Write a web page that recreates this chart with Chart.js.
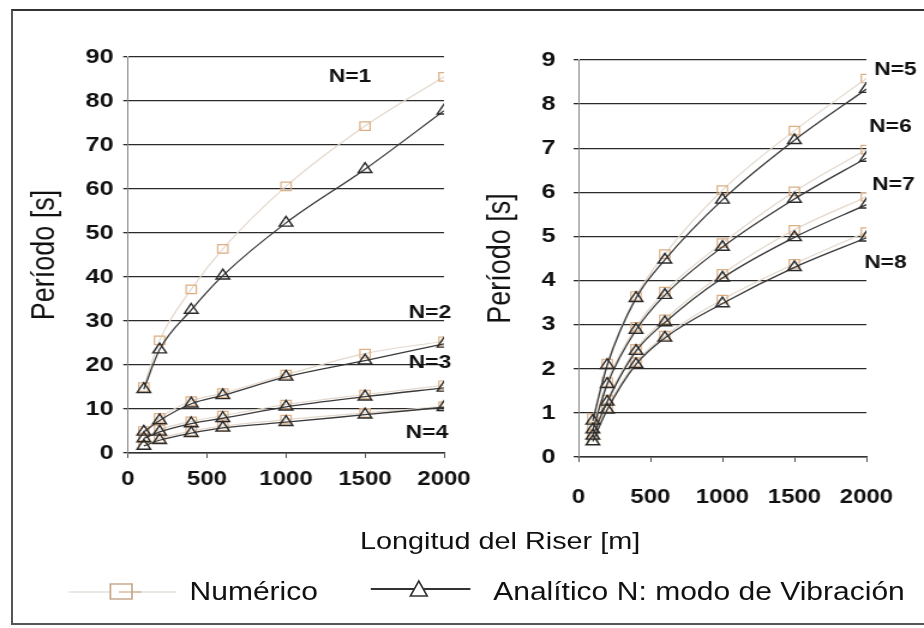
<!DOCTYPE html>
<html>
<head>
<meta charset="utf-8">
<script src="https://cdn.jsdelivr.net/npm/chart.js@4.4.0/dist/chart.umd.min.js"></script>
<style>
  html, body { margin: 0; padding: 0; background: #fff; overflow: hidden; }
  #marco { position: absolute; left: 11px; top: 9px; width: 920px; height: 616px; box-sizing: border-box;
           border-left: 2px solid #555; border-top: 2px solid #333; border-bottom: 2px solid #555; }
  #lienzo { position: absolute; left: 0; top: 0; width: 770px; height: 628px;
            transform: scaleX(1.2); transform-origin: 0 0;
            font-family: 'Liberation Sans', Arial, sans-serif; color: #111; }
  #lienzo canvas { position: absolute; top: 0; }
  .txt { position: absolute; white-space: nowrap; line-height: 1; }
</style>
</head>
<body>
<div id="marco"></div>
<div id="lienzo">
  <canvas id="izq"></canvas>
  <canvas id="der"></canvas>
  <svg width="770" height="628" style="position:absolute;left:0;top:0">
    <line x1="57" y1="592" x2="147" y2="592" stroke="#ebe8e4" stroke-width="2"/>
    <rect x="92" y="584" width="18" height="15" fill="#fff" stroke="#c9a98e" stroke-width="1.5"/>
    <line x1="99" y1="592" x2="118" y2="592" stroke="#c9a98e" stroke-width="1.2"/>
    <line x1="309" y1="589" x2="392" y2="589" stroke="#333" stroke-width="2"/>
    <polygon points="349,581 342,596 356,596" fill="#fff" stroke="#333" stroke-width="1.5"/>
  </svg>
  <div class="txt" style="left:300px;width:200px;text-align:center;top:529px;font-size:24px">Longitud del Riser [m]</div>
  <div class="txt" style="left:158px;top:579px;font-size:25px">Numérico</div>
  <div class="txt" style="left:411px;top:579px;font-size:25px">Analítico</div>
  <div class="txt" style="left:514px;top:579px;font-size:25px">N: modo de Vibración</div>
</div>
<script>
// Longitud del riser [m]
const longitud = [100, 200, 400, 600, 1000, 1500, 2000];

// Modos 1 a 4 (gráfico izquierdo)
const anaN1 = [14.5, 23.5, 32.5, 40.3, 52.3, 64.5, 77.8];
const numN1 = [15.0, 25.6, 37.2, 46.4, 60.6, 74.3, 85.5];
const anaN2 = [4.8, 7.4, 11.2, 13.1, 17.3, 21.0, 24.8];
const numN2 = [5.0, 8.0, 11.8, 13.6, 17.8, 22.6, 25.4];
const anaN3 = [3.3, 4.8, 6.7, 7.9, 10.5, 12.8, 14.8];
const numN3 = [3.5, 5.3, 7.2, 8.5, 11.0, 13.3, 15.4];
const anaN4 = [1.6, 2.9, 4.5, 5.7, 7.0, 8.7, 10.4];
const numN4 = [1.8, 3.3, 5.0, 6.1, 7.6, 9.1, 10.6];

// Modos 5 a 8 (gráfico derecho)
const anaN5 = [0.82, 2.08, 3.60, 4.47, 5.83, 7.18, 8.34];
const numN5 = [0.88, 2.12, 3.65, 4.60, 6.05, 7.40, 8.58];
const anaN6 = [0.62, 1.65, 2.88, 3.67, 4.76, 5.85, 6.78];
const numN6 = [0.68, 1.70, 2.95, 3.75, 4.85, 6.02, 6.97];
const anaN7 = [0.48, 1.25, 2.40, 3.05, 4.06, 4.98, 5.72];
const numN7 = [0.52, 1.30, 2.45, 3.12, 4.15, 5.15, 5.90];
const anaN8 = [0.35, 1.07, 2.10, 2.70, 3.48, 4.30, 4.97];
const numN8 = [0.38, 1.12, 2.15, 2.75, 3.57, 4.38, 5.10];

// Etiquetas de modo: [texto, longitud, periodo]
const etiquetasIzq = [['N=1', 1405, 85.5], ['N=2', 1911, 31.8], ['N=3', 1911, 20.4], ['N=4', 1892, 4.5]];
const etiquetasDer = [['N=5', 2201, 8.78], ['N=6', 2167, 7.48], ['N=7', 2188, 6.17], ['N=8', 2132, 4.4]];

const S = 1.2;
const ALTO = 520;
Chart.defaults.font.family = "'Liberation Sans', Arial, sans-serif";
Chart.defaults.color = '#111';

function montar(id, izqPag, anchoPag, area) {
  const c = document.getElementById(id);
  const w = Math.round(anchoPag / S);
  c.width = w;
  c.height = ALTO;
  c.style.left = (izqPag / S) + 'px';
  c.style.width = w + 'px';
  c.style.height = ALTO + 'px';
  return {
    yW: (area.l - izqPag) / S,
    padR: w - (area.r - izqPag) / S,
    padT: area.t,
    xH: ALTO - area.b
  };
}

const etiquetas = {
  id: 'etiquetas',
  afterDraw(chart, args, opts) {
    const { ctx } = chart;
    const x = chart.scales.x, y = chart.scales.y;
    ctx.save();
    ctx.font = "bold 19px 'Liberation Sans', Arial, sans-serif";
    ctx.fillStyle = '#111';
    ctx.textAlign = 'center';
    ctx.textBaseline = 'middle';
    opts.items.forEach(([t, vx, vy]) => ctx.fillText(t, x.getPixelForValue(vx), y.getPixelForValue(vy)));
    ctx.restore();
  }
};

function series(ana, num) {
  const a = ana.map(v => ({
    data: v.map((p, i) => ({ x: longitud[i], y: p })),
    borderColor: '#3a3a3a', borderWidth: 1.3,
    pointStyle: 'triangle', pointRadius: 6.5,
    pointBorderColor: '#2a2a2a', pointBorderWidth: 1.4,
    pointBackgroundColor: 'rgba(255,255,255,0)',
    cubicInterpolationMode: 'monotone'
  }));
  const n = num.map(v => ({
    data: v.map((p, i) => ({ x: longitud[i], y: p })),
    borderColor: '#e3d8cc', borderWidth: 1.2,
    pointStyle: 'rect', pointRadius: 6,
    pointBorderColor: '#dcae82', pointBorderWidth: 1.2,
    pointBackgroundColor: 'rgba(255,255,255,0)',
    cubicInterpolationMode: 'monotone'
  }));
  return a.concat(n);
}

function grafico(id, geo, datasets, yMax, yStep, c) {
  return new Chart(document.getElementById(id), {
    type: 'line',
    data: { datasets },
    plugins: [etiquetas],
    options: {
      responsive: false,
      animation: false,
      layout: { padding: { left: 0, right: geo.padR, top: geo.padT, bottom: 0 } },
      plugins: {
        legend: { display: false },
        tooltip: { enabled: false },
        etiquetas: { items: c.items }
      },
      scales: {
        x: {
          type: 'linear', min: 0, max: 2000,
          ticks: { stepSize: 500, padding: c.xPad, font: { size: 20, weight: 'bold' }, color: '#111',
                   callback: v => String(v) },
          grid: { drawOnChartArea: false, tickLength: 5, color: '#555' },
          border: { color: '#333', width: 1.5 },
          afterFit: s => { s.height = geo.xH; }
        },
        y: {
          min: 0, max: yMax,
          ticks: { stepSize: yStep, padding: c.yPad, font: { size: 21, weight: 'bold' }, color: '#111' },
          grid: { color: '#2a2a2a', lineWidth: 1.3, tickLength: 4 },
          border: { color: '#888', width: 1 },
          title: { display: true, text: 'Período [s]', font: { size: 27 }, color: '#111', padding: { top: c.tPad, bottom: 0 } },
          afterFit: s => { s.width = geo.yW; }
        }
      }
    }
  });
}

const geoIzq = montar('izq', 0, 486, { l: 128, r: 444, t: 57, b: 453 });
const geoDer = montar('der', 470, 454, { l: 578, r: 866, t: 60, b: 457 });

grafico('izq', geoIzq, series([anaN1, anaN2, anaN3, anaN4], [numN1, numN2, numN3, numN4]), 90, 10,
  { items: etiquetasIzq, xPad: 9, yPad: 8, tPad: 21 });
grafico('der', geoDer, series([anaN5, anaN6, anaN7, anaN8], [numN5, numN6, numN7, numN8]), 9, 1,
  { items: etiquetasDer, xPad: 23, yPad: 15, tPad: 9 });
</script>
</body>
</html>
